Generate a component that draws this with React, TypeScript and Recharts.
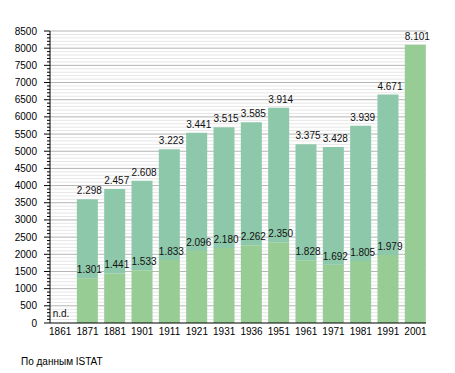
import React from 'react';
import { BarChart, Bar, XAxis, YAxis, CartesianGrid, LabelList } from 'recharts';

const years = ['1861', '1871', '1881', '1901', '1911', '1921', '1931', '1936', '1951', '1961', '1971', '1981', '1991', '2001'];
const lowerValues = [0, 1301, 1441, 1533, 1833, 2096, 2180, 2262, 2350, 1828, 1692, 1805, 1979, 8101];
const upperValues = [0, 2298, 2457, 2608, 3223, 3441, 3515, 3585, 3914, 3375, 3428, 3939, 4671, 0];
const missingLabel = 'n.d.';
const sourceNote = 'По данным ISTAT';

const yTicks: number[] = [];
for (let v = 0; v <= 8500; v += 100) yTicks.push(v);
const minorGrid = yTicks.filter((v) => v % 500 !== 0);
const majorGrid = yTicks.filter((v) => v % 500 === 0 && v > 0);
const xTicks = years.map((_, i) => i);

const data = years.map((year, i) => ({ pos: i, year, lower: lowerValues[i], upper: upperValues[i] }));

const FONT = '"Liberation Sans", Arial, sans-serif';
const AXIS_X = 42;
const AXIS_Y = 315;
const labelStyle = { fontSize: 10, fontFamily: FONT, fill: '#111' };

const fmt = (v: number) => Math.floor(v / 1000) + '.' + String(v % 1000).padStart(3, '0');

const YTick = (props: any) => {
  const { y, payload } = props;
  const v = payload.value;
  const major = v % 500 === 0;
  return (
    <g>
      <line x1={AXIS_X - (major ? 6 : 3)} x2={AXIS_X} y1={y} y2={y} stroke="#000" strokeWidth={1} />
      {major && (
        <text x={AXIS_X - 13} y={y} dy="0.35em" textAnchor="end" fontSize={10} fontFamily={FONT} fill="#000">
          {v}
        </text>
      )}
    </g>
  );
};

const XTick = (props: any) => {
  const { x, payload } = props;
  const i = payload.value;
  const missing = !lowerValues[i] && !upperValues[i];
  return (
    <g>
      <text x={x} y={327} textAnchor="middle" fontSize={10} fontFamily={FONT} fill="#000">
        {years[i]}
      </text>
      {missing && (
        <text x={x - 7.5} y={AXIS_Y - 6} {...labelStyle}>
          {missingLabel}
        </text>
      )}
    </g>
  );
};

const UpperLabels = (props: any) => {
  const { x, y, height, value } = props;
  const i = Number(value);
  const up = upperValues[i];
  const lo = lowerValues[i];
  const base = y + height;
  return (
    <g>
      {up > 0 && (
        <text x={x} y={y - 5} {...labelStyle}>
          {fmt(up)}
        </text>
      )}
      {lo > 0 && (
        <text x={x} y={base - 5} {...labelStyle}>
          {fmt(lo)}
        </text>
      )}
    </g>
  );
};

const LowerLabels = (props: any) => {
  const { x, y, value } = props;
  const i = Number(value);
  if (upperValues[i] > 0 || !(lowerValues[i] > 0)) return null;
  return (
    <text x={x} y={y - 5} {...labelStyle}>
      {fmt(lowerValues[i])}
    </text>
  );
};

export default function App() {
  return (
    <div style={{ position: 'relative', width: 447, height: 365 }}>
      <BarChart
        width={440}
        height={340}
        data={data}
        margin={{ top: 23, right: 22, bottom: 0, left: 0 }}
        barSize={21}
      >
        <CartesianGrid vertical={false} horizontalValues={minorGrid} stroke="#e6e6e6" />
        <CartesianGrid vertical={false} horizontalValues={majorGrid} stroke="#b4b4b4" />
        <XAxis
          dataKey="pos"
          type="number"
          domain={[-0.373, 13.385]}
          ticks={xTicks}
          interval={0}
          tickLine={false}
          axisLine={{ stroke: '#000' }}
          tick={<XTick />}
          height={25}
        />
        <YAxis
          type="number"
          domain={[0, 8500]}
          ticks={yTicks}
          interval={0}
          width={42}
          tickLine={false}
          axisLine={{ stroke: '#000' }}
          tick={<YTick />}
        />
        <Bar dataKey="lower" stackId="a" fill="#97cc94" isAnimationActive={false}>
          <LabelList dataKey="pos" content={<LowerLabels />} />
        </Bar>
        <Bar dataKey="upper" stackId="a" fill="#8ec8ab" isAnimationActive={false}>
          <LabelList dataKey="pos" content={<UpperLabels />} />
        </Bar>
      </BarChart>
      <div
        style={{
          position: 'absolute',
          left: 13,
          top: 349,
          fontSize: 10,
          lineHeight: '10px',
          fontFamily: FONT,
          color: '#000',
          whiteSpace: 'pre',
        }}
      >
        {sourceNote}
      </div>
    </div>
  );
}
